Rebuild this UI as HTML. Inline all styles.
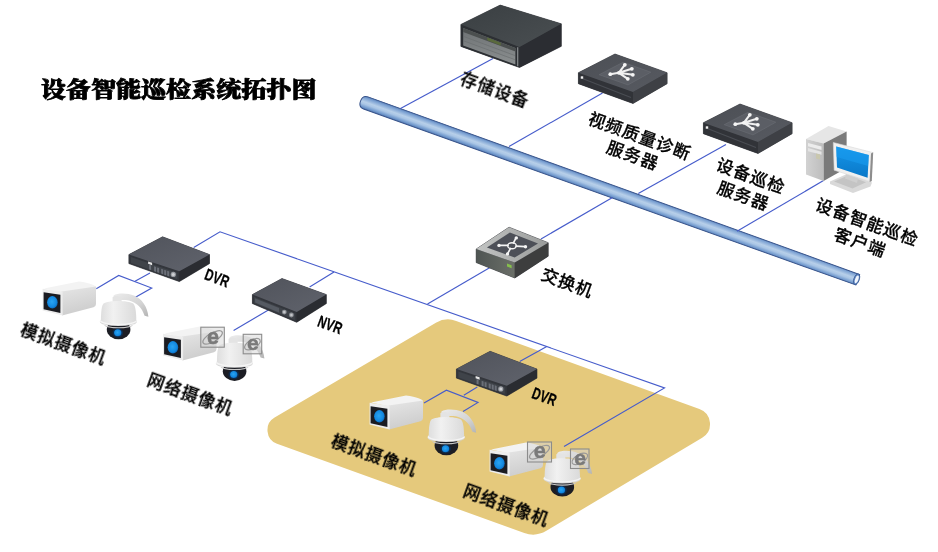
<!DOCTYPE html>
<html lang="zh-CN"><head><meta charset="utf-8"><title>设备智能巡检系统拓扑图</title>
<style>html,body{margin:0;padding:0;background:#fff;}body{width:938px;height:552px;overflow:hidden;}svg{display:block;}.lbl text{font-family:"Liberation Sans","Noto Sans CJK SC",sans-serif;fill:#000;stroke:#000;stroke-width:0.3px;}.lbl,.title,.ie{opacity:0.999;}.title{font-family:"Liberation Serif","Noto Serif CJK SC",serif;font-weight:900;fill:#000;}.wires{stroke:#465ccb;stroke-width:1.15;fill:none;}</style></head><body>
<svg width="938" height="552" viewBox="0 0 938 552">
<defs>
<filter id="soft" x="-5%" y="-5%" width="110%" height="110%" color-interpolation-filters="sRGB"><feGaussianBlur stdDeviation="0.55"/></filter>
<linearGradient id="gPipe" gradientUnits="userSpaceOnUse" x1="0" y1="-6.6" x2="0" y2="6.6">
<stop offset="0" stop-color="#557ab0"/><stop offset="0.15" stop-color="#7aa0d2"/><stop offset="0.45" stop-color="#b7cfe9"/><stop offset="0.62" stop-color="#a9c5e5"/><stop offset="0.85" stop-color="#7199cd"/><stop offset="1" stop-color="#5075ac"/>
</linearGradient>
<linearGradient id="gDvrTop" x1="0" y1="0" x2="1" y2="1"><stop offset="0" stop-color="#50535b"/><stop offset="1" stop-color="#60636c"/></linearGradient>
<linearGradient id="gSrvTop" x1="0" y1="0" x2="1" y2="1"><stop offset="0" stop-color="#4c4f55"/><stop offset="1" stop-color="#575a61"/></linearGradient>
<linearGradient id="gStoTop" x1="0" y1="0" x2="1" y2="1"><stop offset="0" stop-color="#3a3f42"/><stop offset="1" stop-color="#4a4f52"/></linearGradient>
<linearGradient id="gStoFront" x1="0" y1="0" x2="0" y2="1"><stop offset="0" stop-color="#6d7173"/><stop offset="1" stop-color="#8b8f90"/></linearGradient>
<linearGradient id="gSwTop" x1="0" y1="0.5" x2="1" y2="0.5"><stop offset="0" stop-color="#c2c4c3"/><stop offset="1" stop-color="#9a9c9b"/></linearGradient>
<linearGradient id="gSwFront" x1="0" y1="0" x2="1" y2="0"><stop offset="0" stop-color="#4f5553"/><stop offset="1" stop-color="#6b6f68"/></linearGradient>
<linearGradient id="gPcFront" x1="0" y1="0" x2="1" y2="0"><stop offset="0" stop-color="#d2d2d2"/><stop offset="1" stop-color="#bdbdbd"/></linearGradient>
<linearGradient id="gScreen" x1="0" y1="0" x2="0" y2="1"><stop offset="0" stop-color="#1596ea"/><stop offset="1" stop-color="#0a78c8"/></linearGradient>
<linearGradient id="gCamSide" x1="0" y1="0" x2="0.3" y2="1"><stop offset="0" stop-color="#e6e6e6"/><stop offset="1" stop-color="#cdcdcd"/></linearGradient>
<radialGradient id="gLens" cx="0.45" cy="0.45" r="0.6"><stop offset="0" stop-color="#2aa4f2"/><stop offset="0.7" stop-color="#1288e0"/><stop offset="1" stop-color="#0b5fae"/></radialGradient>
<linearGradient id="gDome" x1="0" y1="0" x2="1" y2="0"><stop offset="0" stop-color="#dedede"/><stop offset="0.35" stop-color="#f1f1f1"/><stop offset="1" stop-color="#dadada"/></linearGradient>
<linearGradient id="gArm" x1="0" y1="0" x2="1" y2="1"><stop offset="0" stop-color="#ececec"/><stop offset="0.6" stop-color="#d4d4d4"/><stop offset="1" stop-color="#b4b4b4"/></linearGradient>
</defs>
<rect width="938" height="552" fill="#ffffff"/>
<g id="gfx" filter="url(#soft)">
<path d="M277.0 443.7 A14.5 14.5 0 0 1 274.6 417.6 L435.9 322.8 A24.0 24.0 0 0 1 456.2 320.9 L699.4 409.0 A16.0 16.0 0 0 1 702.2 437.8 L546.4 530.8 A26.0 26.0 0 0 1 524.3 533.0 Z" fill="#e5c97c"/>
<g transform="translate(362 101.6) rotate(19.765)">
<path d="M4 -6.5 L526.8 -5.6 L526.8 5.6 L4 6.5 C0.5 6.5 -1.6 4 -1.6 0 C-1.6 -4 0.5 -6.5 4 -6.5 Z" fill="url(#gPipe)" stroke="#36528a" stroke-width="0.95"/>
<ellipse cx="525.5" cy="0" rx="2.7" ry="5.6" fill="#5f86c2" stroke="#3a5a94" stroke-width="0.8"/>
<ellipse cx="525.7" cy="0" rx="1.6" ry="4.0" fill="#f2f6fc"/>
</g>
<g class="wires">
<line x1="493.0" y1="58.4" x2="400.5" y2="108.6"/>
<line x1="602.5" y1="93.0" x2="509.0" y2="146.6"/>
<line x1="726.0" y1="144.4" x2="638.3" y2="193.6"/>
<line x1="823.5" y1="180.6" x2="737.0" y2="231.2"/>
<line x1="612.5" y1="197.5" x2="541.0" y2="239.0"/>
<line x1="490.0" y1="267.5" x2="427.5" y2="304.0"/>
<polyline points="193.7,247.5 220.0,231.8 664.5,388.0 564.0,446.5"/>
<line x1="334.0" y1="272.0" x2="309.6" y2="287.0"/>
<line x1="546.8" y1="346.6" x2="519.7" y2="361.5"/>
<line x1="268.4" y1="310.0" x2="233.6" y2="330.4"/>
<line x1="150.0" y1="273.0" x2="135.0" y2="281.3"/>
<polyline points="96.3,288.7 118.7,275.5 151.7,288.0 135.0,297.5"/>
<line x1="477.3" y1="387.0" x2="463.8" y2="395.3"/>
<polyline points="424.0,403.0 446.4,390.2 478.0,402.4 463.0,411.5"/>
</g>
<g><polygon points="460.9,24.4 500.2,5.1 561.3,23.8 561.3,46.3 519.5,67.5 460.9,46.4" fill="#303237" stroke="#303237" stroke-width="0.6" stroke-linejoin="round"/><polygon points="460.9,24.4 519.5,47.0 519.5,67.5 460.9,46.4" fill="#2c2f33" /><polygon points="519.5,47.0 561.3,23.8 561.3,46.3 519.5,67.5" fill="#2b2d32" /><polygon points="460.9,24.4 500.2,5.1 561.3,23.8 519.5,47.0" fill="url(#gStoTop)" /><polygon points="463.2,27.9 515.4,47.9 515.4,64.4 463.2,45.5" fill="url(#gStoFront)" /><polygon points="463.2,27.9 515.4,47.9 515.4,51.6 463.2,31.9" fill="#4b4f4f" /><polygon points="487.3,37.6 500.7,42.7 500.7,45.4 487.3,40.3" fill="#5a6a3c" /><line x1="463.8" y1="36.5" x2="514.8" y2="55.5" stroke="#6a6e70" stroke-width="0.7"/><line x1="463.8" y1="40.9" x2="514.8" y2="59.6" stroke="#6a6e70" stroke-width="0.7"/><line x1="517.7" y1="47.3" x2="517.7" y2="66.3" stroke="#8a8d90" stroke-width="1.2"/></g>
<g><polygon points="578.4,72.7 615.0,54.0 667.1,72.7 667.1,83.7 633.0,103.5 578.4,83.7" fill="#303237" stroke="#303237" stroke-width="0.6" stroke-linejoin="round"/><polygon points="578.4,72.7 633.0,92.0 633.0,103.5 578.4,83.7" fill="#313338" /><polygon points="633.0,92.0 667.1,72.7 667.1,83.7 633.0,103.5" fill="#3e4045" /><polygon points="578.4,72.7 615.0,54.0 667.1,72.7 633.0,92.0" fill="url(#gSrvTop)" /><line x1="580.4" y1="77.7" x2="631.0" y2="97.5" stroke="#4a4d53" stroke-width="1.2"/><polygon points="599.2,74.7 623.0,62.3 650.8,72.2 628.0,84.9" fill="#5b5e65" stroke="#6a6d74" stroke-width="0.6"/><g stroke="#f0f0f0" stroke-width="2.1" stroke-linecap="round" fill="none"><path d="M618.8 72.8 l-8.5 1.5 M618.8 72.8 l6 -8 M618.8 72.8 l13 -4 M618.8 72.8 l14 2 M618.8 72.8 l9 6"/></g><circle cx="610.3" cy="74.2" r="1.9" fill="#f5f5f5"/><circle cx="624.8" cy="64.8" r="1.9" fill="#f5f5f5"/><circle cx="631.8" cy="68.8" r="1.9" fill="#f5f5f5"/><circle cx="632.8" cy="74.8" r="1.9" fill="#f5f5f5"/><circle cx="627.8" cy="78.8" r="1.9" fill="#f5f5f5"/><circle cx="618.8" cy="72.8" r="1.9" fill="#f5f5f5"/><rect x="580.8" y="76.3" width="2.4" height="2.4" fill="#f0f0f0"/></g>
<g><polygon points="703.4,122.7 740.0,104.0 792.1,122.7 792.1,133.7 758.0,153.5 703.4,133.7" fill="#303237" stroke="#303237" stroke-width="0.6" stroke-linejoin="round"/><polygon points="703.4,122.7 758.0,142.0 758.0,153.5 703.4,133.7" fill="#313338" /><polygon points="758.0,142.0 792.1,122.7 792.1,133.7 758.0,153.5" fill="#3e4045" /><polygon points="703.4,122.7 740.0,104.0 792.1,122.7 758.0,142.0" fill="url(#gSrvTop)" /><line x1="705.4" y1="127.7" x2="756.0" y2="147.5" stroke="#4a4d53" stroke-width="1.2"/><polygon points="724.2,124.7 748.0,112.3 775.8,122.2 753.0,134.9" fill="#5b5e65" stroke="#6a6d74" stroke-width="0.6"/><g stroke="#f0f0f0" stroke-width="2.1" stroke-linecap="round" fill="none"><path d="M743.8 122.8 l-8.5 1.5 M743.8 122.8 l6 -8 M743.8 122.8 l13 -4 M743.8 122.8 l14 2 M743.8 122.8 l9 6"/></g><circle cx="735.3" cy="124.2" r="1.9" fill="#f5f5f5"/><circle cx="749.8" cy="114.8" r="1.9" fill="#f5f5f5"/><circle cx="756.8" cy="118.8" r="1.9" fill="#f5f5f5"/><circle cx="757.8" cy="124.8" r="1.9" fill="#f5f5f5"/><circle cx="752.8" cy="128.8" r="1.9" fill="#f5f5f5"/><circle cx="743.8" cy="122.8" r="1.9" fill="#f5f5f5"/><rect x="705.8" y="126.3" width="2.4" height="2.4" fill="#f0f0f0"/></g>
<g><polygon points="806.0,139.0 828.5,126.0 846.6,131.5 823.6,143.5" fill="#e6e6e6" /><polygon points="806.0,139.0 823.6,143.5 823.6,181.0 806.0,174.5" fill="url(#gPcFront)" /><polygon points="823.6,143.5 846.6,131.5 846.6,168.0 823.6,181.0" fill="#7a7a7a" /><polygon points="808.0,143.0 821.5,146.5 821.5,150.0 808.0,146.3" fill="#ececec" /><polygon points="808.0,148.0 821.5,151.7 821.5,154.8 808.0,151.3" fill="#e4e4e4" /><polygon points="816.0,153.5 820.0,154.6 820.0,159.5 816.0,158.4" fill="#c9c7ae" /><polygon points="830.0,181.5 848.0,173.5 872.0,182.5 870.5,186.5 853.0,193.0 830.0,184.0" fill="#d9d9d9" /><polygon points="834.0,181.5 848.0,175.5 866.0,182.3 852.5,188.5" fill="#c4c4c4" /><polygon points="846.0,174.0 858.0,178.5 857.0,183.0 845.0,178.5" fill="#cfcfcf" /><polygon points="833.3,142.5 872.6,152.5 871.0,181.8 834.2,170.2" fill="#f0f0f0" stroke="#d8d8d8" stroke-width="0.6"/><polygon points="871.0,153.5 873.2,152.3 871.8,181.0 869.6,182.0" fill="#8d8d8d" /><polygon points="836.2,146.5 868.8,155.0 867.6,177.8 837.0,167.4" fill="url(#gScreen)" /><polygon points="836.2,146.5 868.8,155.0 868.2,166.0 836.6,157.0" fill="#1a9cf0" opacity="0.55"/></g>
<g><polygon points="476.2,249.1 509.0,227.2 548.2,242.7 548.2,256.2 514.8,278.0 476.2,262.6" fill="#303237" stroke="#303237" stroke-width="0.6" stroke-linejoin="round"/><polygon points="476.2,249.1 514.8,262.6 514.8,278.0 476.2,262.6" fill="url(#gSwFront)" /><polygon points="514.8,262.6 548.2,242.7 548.2,256.2 514.8,278.0" fill="#3d3e3e" /><polygon points="476.2,249.1 509.0,227.2 548.2,242.7 514.8,262.6" fill="url(#gSwTop)" /><polygon points="486.9,247.5 509.9,232.4 538.0,243.4 514.7,257.5" fill="#4d5058" /><g stroke="#f4f4f4" stroke-width="1.7" stroke-linecap="round" fill="none"><path d="M508.0 245.4 l-9 0 M516.0 246.2 l9 0.5 M513.5 242.9 l2.5 -5 M510.5 248.4 l-3 5.5"/><ellipse cx="512.0" cy="245.7" rx="4.3" ry="3" stroke-width="1.4"/></g><circle cx="499.0" cy="245.4" r="1.7" fill="#f5f5f5"/><circle cx="525.5" cy="246.7" r="1.7" fill="#f5f5f5"/><circle cx="516.3" cy="237.9" r="1.7" fill="#f5f5f5"/><circle cx="507.5" cy="253.9" r="1.7" fill="#f5f5f5"/><rect x="507" y="263.6" width="4.6" height="3" fill="#86c04c" transform="skewY(19)" style="transform-origin:507px 263.6px"/></g>
<g><polygon points="128.9,254.6 162.6,236.8 209.5,254.6 209.5,263.6 179.3,281.6 128.9,263.6" fill="#303237" stroke="#303237" stroke-width="0.6" stroke-linejoin="round"/><polygon points="128.9,254.6 179.3,271.3 179.3,281.6 128.9,263.6" fill="#33363c" /><polygon points="179.3,271.3 209.5,254.6 209.5,263.6 179.3,281.6" fill="#2a2c31" /><polygon points="128.9,254.6 162.6,236.8 209.5,254.6 179.3,271.3" fill="url(#gDvrTop)" /><polygon points="130.9,257.1 177.3,272.7 177.3,279.3 130.9,263.0" fill="#3f4349" /><polygon points="148.1,261.4 152.1,262.8 152.1,265.2 148.1,263.8" fill="#e8e8e8" /><polygon points="149.1,264.6 151.1,265.3 151.1,270.1 149.1,269.4" fill="#6b6f78" /><polygon points="154.1,266.3 156.1,267.0 156.1,271.9 154.1,271.2" fill="#6b6f78" /><polygon points="157.1,267.4 159.1,268.0 159.1,272.9 157.1,272.2" fill="#6b6f78" /><polygon points="161.2,268.7 163.2,269.4 163.2,274.4 161.2,273.6" fill="#6b6f78" /><polygon points="164.2,269.8 166.2,270.4 166.2,275.4 164.2,274.7" fill="#6b6f78" /><polygon points="167.2,270.8 169.2,271.5 169.2,276.5 167.2,275.8" fill="#6b6f78" /><circle cx="173.3" cy="274.4" r="2.6" fill="#9a9da3"/><circle cx="173.3" cy="274.4" r="1.5" fill="#cfd1d4"/></g>
<g><polygon points="252.4,294.6 282.0,278.5 326.3,294.6 326.3,303.6 296.7,322.3 252.4,303.6" fill="#303237" stroke="#303237" stroke-width="0.6" stroke-linejoin="round"/><polygon points="252.4,294.6 296.7,312.0 296.7,322.3 252.4,303.6" fill="#33363c" /><polygon points="296.7,312.0 326.3,294.6 326.3,303.6 296.7,322.3" fill="#2a2c31" /><polygon points="252.4,294.6 282.0,278.5 326.3,294.6 296.7,312.0" fill="url(#gDvrTop)" /><polygon points="254.2,297.1 294.9,313.4 294.9,320.0 254.2,303.0" fill="#3f4349" /><polygon points="255.1,298.4 279.0,308.0 279.0,312.4 255.1,302.5" fill="#555a62" /><circle cx="284.3" cy="312.1" r="2.4" fill="#8d9096"/><circle cx="284.3" cy="312.1" r="1.3" fill="#c5c7ca"/><circle cx="291.4" cy="315.0" r="2.4" fill="#8d9096"/><circle cx="291.4" cy="315.0" r="1.3" fill="#c5c7ca"/></g>
<g><polygon points="456.4,369.1 490.1,351.3 537.0,369.1 537.0,378.1 506.8,396.1 456.4,378.1" fill="#303237" stroke="#303237" stroke-width="0.6" stroke-linejoin="round"/><polygon points="456.4,369.1 506.8,385.8 506.8,396.1 456.4,378.1" fill="#33363c" /><polygon points="506.8,385.8 537.0,369.1 537.0,378.1 506.8,396.1" fill="#2a2c31" /><polygon points="456.4,369.1 490.1,351.3 537.0,369.1 506.8,385.8" fill="url(#gDvrTop)" /><polygon points="458.4,371.6 504.8,387.2 504.8,393.8 458.4,377.5" fill="#3f4349" /><polygon points="475.6,375.9 479.6,377.3 479.6,379.7 475.6,378.3" fill="#e8e8e8" /><polygon points="476.6,379.1 478.6,379.8 478.6,384.6 476.6,383.9" fill="#6b6f78" /><polygon points="481.6,380.8 483.6,381.5 483.6,386.4 481.6,385.7" fill="#6b6f78" /><polygon points="484.6,381.9 486.6,382.5 486.6,387.4 484.6,386.7" fill="#6b6f78" /><polygon points="488.7,383.2 490.7,383.9 490.7,388.9 488.7,388.1" fill="#6b6f78" /><polygon points="491.7,384.3 493.7,384.9 493.7,389.9 491.7,389.2" fill="#6b6f78" /><polygon points="494.7,385.3 496.7,386.0 496.7,391.0 494.7,390.3" fill="#6b6f78" /><circle cx="500.8" cy="388.9" r="2.6" fill="#9a9da3"/><circle cx="500.8" cy="388.9" r="1.5" fill="#cfd1d4"/></g>
<g><path d="M44.0 288.6 L79.0 281.6 Q95.5 284.0 96.0 287.5 L96.0 288.0 L62.0 292.5 Z" fill="#f3f3f3"/><path d="M61.5 291.5 L96.0 286.5 L96.0 304.0 Q96.0 306.5 93.5 307.2 L62.0 315.5 Z" fill="url(#gCamSide)"/><path d="M42.6 288.8 L62.6 291.8 L62.6 315.6 L42.6 310.6 Z" fill="#ededed"/><path d="M43.6 292.2 L60.4 294.8 L60.4 313.0 L43.6 309.2 Z" fill="#1b1c22"/><ellipse cx="52.4" cy="302.3" rx="5.3" ry="6.2" fill="url(#gLens)"/></g>
<g><path d="M113.6 295.6 C118.0 292.6 128.0 293.2 134.0 295.6 C142.0 299.0 147.5 307.0 148.4 316.8 L144.6 315.8 C142.0 308.0 137.0 303.0 129.0 300.6 C124.0 299.8 118.0 300.0 114.0 301.0 Z" fill="url(#gArm)" /><path d="M112.6 305.0 L112.6 297.0 Q117.0 294.6 121.6 297.4 L121.6 305.0 Z" fill="#e4e4e4" /><ellipse cx="118.6" cy="329.6" rx="11.8" ry="9.6" fill="#1c1d24"/><ellipse cx="117.8" cy="332.8" rx="5.4" ry="4.8" fill="#0f2a4a"/><ellipse cx="117.8" cy="332.8" rx="3.7" ry="3.5" fill="url(#gLens)"/><path d="M101.4 322.8 A17.4 5.2 0 0 0 135.8 322.8 L132.5 325.4 A14 3.2 0 0 1 104.6 325.4 Z" fill="#c9c9c9"/><ellipse cx="118.4" cy="321.8" rx="18.6" ry="4.3" fill="#d9d9d9"/><ellipse cx="118.4" cy="321.0" rx="18.6" ry="4.2" fill="#f4f4f4"/><path d="M100.9 320.4 C101.0 312.0 101.6 305.6 103.6 303.6 C108.0 300.2 128.0 300.2 133.2 303.6 C135.4 305.6 136.2 312.0 136.3 320.4 C131.0 325.0 106.0 325.0 100.9 320.4 Z" fill="url(#gDome)" /></g>
<g><path d="M164.5 333.6 L199.5 326.6 Q216.0 329.0 216.5 332.5 L216.5 333.0 L182.5 337.5 Z" fill="#f3f3f3"/><path d="M182.0 336.5 L216.5 331.5 L216.5 349.0 Q216.5 351.5 214.0 352.2 L182.5 360.5 Z" fill="url(#gCamSide)"/><path d="M163.1 333.8 L183.1 336.8 L183.1 360.6 L163.1 355.6 Z" fill="#ededed"/><path d="M164.1 337.2 L180.9 339.8 L180.9 358.0 L164.1 354.2 Z" fill="#1b1c22"/><ellipse cx="172.9" cy="347.3" rx="5.3" ry="6.2" fill="url(#gLens)"/></g>
<g><path d="M229.6 337.3 C234.0 334.3 244.0 334.9 250.0 337.3 C258.0 340.7 263.5 348.7 264.4 358.5 L260.6 357.5 C258.0 349.7 253.0 344.7 245.0 342.3 C240.0 341.5 234.0 341.7 230.0 342.7 Z" fill="url(#gArm)" /><path d="M228.6 346.7 L228.6 338.7 Q233.0 336.3 237.6 339.1 L237.6 346.7 Z" fill="#e4e4e4" /><ellipse cx="234.6" cy="371.3" rx="11.8" ry="9.6" fill="#1c1d24"/><ellipse cx="233.8" cy="374.5" rx="5.4" ry="4.8" fill="#0f2a4a"/><ellipse cx="233.8" cy="374.5" rx="3.7" ry="3.5" fill="url(#gLens)"/><path d="M217.4 364.5 A17.4 5.2 0 0 0 251.8 364.5 L248.5 367.1 A14 3.2 0 0 1 220.6 367.1 Z" fill="#c9c9c9"/><ellipse cx="234.4" cy="363.5" rx="18.6" ry="4.3" fill="#d9d9d9"/><ellipse cx="234.4" cy="362.7" rx="18.6" ry="4.2" fill="#f4f4f4"/><path d="M216.9 362.1 C217.0 353.7 217.6 347.3 219.6 345.3 C224.0 341.9 244.0 341.9 249.2 345.3 C251.4 347.3 252.2 353.7 252.3 362.1 C247.0 366.7 222.0 366.7 216.9 362.1 Z" fill="url(#gDome)" /></g>
<g class="ie"><rect x="200.8" y="327.2" width="23.5" height="20.0" fill="#d6d6d6" fill-opacity="0.5" stroke="#8c8c8c" stroke-width="1.1"/><ellipse cx="212.6" cy="337.4" rx="11.0" ry="4.4" fill="none" stroke="#999999" stroke-width="1.2" transform="rotate(-30 212.6 337.4)"/><text x="212.9" y="343.6" font-family="'Liberation Sans',sans-serif" font-weight="bold" font-size="21.6px" fill="#7a7a7a" stroke="#7a7a7a" stroke-width="0.5" text-anchor="middle">e</text></g>
<g class="ie"><rect x="243.2" y="334.3" width="18.5" height="19.5" fill="#d6d6d6" fill-opacity="0.5" stroke="#8c8c8c" stroke-width="1.1"/><ellipse cx="252.4" cy="344.2" rx="8.7" ry="4.3" fill="none" stroke="#999999" stroke-width="1.2" transform="rotate(-30 252.4 344.2)"/><text x="252.8" y="350.3" font-family="'Liberation Sans',sans-serif" font-weight="bold" font-size="21.1px" fill="#7a7a7a" stroke="#7a7a7a" stroke-width="0.5" text-anchor="middle">e</text></g>
<g><path d="M371.0 402.6 L406.0 395.6 Q422.5 398.0 423.0 401.5 L423.0 402.0 L389.0 406.5 Z" fill="#f3f3f3"/><path d="M388.5 405.5 L423.0 400.5 L423.0 418.0 Q423.0 420.5 420.5 421.2 L389.0 429.5 Z" fill="url(#gCamSide)"/><path d="M369.6 402.8 L389.6 405.8 L389.6 429.6 L369.6 424.6 Z" fill="#ededed"/><path d="M370.6 406.2 L387.4 408.8 L387.4 427.0 L370.6 423.2 Z" fill="#1b1c22"/><ellipse cx="379.4" cy="416.3" rx="5.3" ry="6.2" fill="url(#gLens)"/></g>
<g><path d="M441.4 411.6 C445.8 408.6 455.8 409.2 461.8 411.6 C469.8 415.0 475.3 423.0 476.2 432.8 L472.4 431.8 C469.8 424.0 464.8 419.0 456.8 416.6 C451.8 415.8 445.8 416.0 441.8 417.0 Z" fill="url(#gArm)" /><path d="M440.4 421.0 L440.4 413.0 Q444.8 410.6 449.4 413.4 L449.4 421.0 Z" fill="#e4e4e4" /><ellipse cx="446.4" cy="445.6" rx="11.8" ry="9.6" fill="#1c1d24"/><ellipse cx="445.6" cy="448.8" rx="5.4" ry="4.8" fill="#0f2a4a"/><ellipse cx="445.6" cy="448.8" rx="3.7" ry="3.5" fill="url(#gLens)"/><path d="M429.2 438.8 A17.4 5.2 0 0 0 463.6 438.8 L460.3 441.4 A14 3.2 0 0 1 432.4 441.4 Z" fill="#c9c9c9"/><ellipse cx="446.2" cy="437.8" rx="18.6" ry="4.3" fill="#d9d9d9"/><ellipse cx="446.2" cy="437.0" rx="18.6" ry="4.2" fill="#f4f4f4"/><path d="M428.7 436.4 C428.8 428.0 429.4 421.6 431.4 419.6 C435.8 416.2 455.8 416.2 461.0 419.6 C463.2 421.6 464.0 428.0 464.1 436.4 C458.8 441.0 433.8 441.0 428.7 436.4 Z" fill="url(#gDome)" /></g>
<g><path d="M491.0 449.6 L526.0 442.6 Q542.5 445.0 543.0 448.5 L543.0 449.0 L509.0 453.5 Z" fill="#f3f3f3"/><path d="M508.5 452.5 L543.0 447.5 L543.0 465.0 Q543.0 467.5 540.5 468.2 L509.0 476.5 Z" fill="url(#gCamSide)"/><path d="M489.6 449.8 L509.6 452.8 L509.6 476.6 L489.6 471.6 Z" fill="#ededed"/><path d="M490.6 453.2 L507.4 455.8 L507.4 474.0 L490.6 470.2 Z" fill="#1b1c22"/><ellipse cx="499.4" cy="463.3" rx="5.3" ry="6.2" fill="url(#gLens)"/></g>
<g><path d="M557.3 452.9 C561.7 449.9 571.7 450.5 577.7 452.9 C585.7 456.3 591.2 464.3 592.1 474.1 L588.3 473.1 C585.7 465.3 580.7 460.3 572.7 457.9 C567.7 457.1 561.7 457.3 557.7 458.3 Z" fill="url(#gArm)" /><path d="M556.3 462.3 L556.3 454.3 Q560.7 451.9 565.3 454.7 L565.3 462.3 Z" fill="#e4e4e4" /><ellipse cx="562.3" cy="486.9" rx="11.8" ry="9.6" fill="#1c1d24"/><ellipse cx="561.5" cy="490.1" rx="5.4" ry="4.8" fill="#0f2a4a"/><ellipse cx="561.5" cy="490.1" rx="3.7" ry="3.5" fill="url(#gLens)"/><path d="M545.1 480.1 A17.4 5.2 0 0 0 579.5 480.1 L576.2 482.7 A14 3.2 0 0 1 548.3 482.7 Z" fill="#c9c9c9"/><ellipse cx="562.1" cy="479.1" rx="18.6" ry="4.3" fill="#d9d9d9"/><ellipse cx="562.1" cy="478.3" rx="18.6" ry="4.2" fill="#f4f4f4"/><path d="M544.6 477.7 C544.7 469.3 545.3 462.9 547.3 460.9 C551.7 457.5 571.7 457.5 576.9 460.9 C579.1 462.9 579.9 469.3 580.0 477.7 C574.7 482.3 549.7 482.3 544.6 477.7 Z" fill="url(#gDome)" /></g>
<g class="ie"><rect x="527.5" y="442.0" width="24.0" height="20.0" fill="#d6d6d6" fill-opacity="0.5" stroke="#8c8c8c" stroke-width="1.1"/><ellipse cx="539.5" cy="452.2" rx="11.3" ry="4.4" fill="none" stroke="#999999" stroke-width="1.2" transform="rotate(-30 539.5 452.2)"/><text x="539.8" y="458.4" font-family="'Liberation Sans',sans-serif" font-weight="bold" font-size="21.6px" fill="#7a7a7a" stroke="#7a7a7a" stroke-width="0.5" text-anchor="middle">e</text></g>
<g class="ie"><rect x="570.5" y="449.0" width="18.5" height="19.5" fill="#d6d6d6" fill-opacity="0.5" stroke="#8c8c8c" stroke-width="1.1"/><ellipse cx="579.8" cy="458.9" rx="8.7" ry="4.3" fill="none" stroke="#999999" stroke-width="1.2" transform="rotate(-30 579.8 458.9)"/><text x="580.0" y="465.0" font-family="'Liberation Sans',sans-serif" font-weight="bold" font-size="21.1px" fill="#7a7a7a" stroke="#7a7a7a" stroke-width="0.5" text-anchor="middle">e</text></g>
</g>
<g class="lbl">
<text transform="translate(493.0 95.5) rotate(20) scale(1.000 1)" text-anchor="middle" font-size="17.0px" letter-spacing="1.00px" font-weight="500">存储设备</text>
<text transform="translate(637.7 141.9) rotate(20) scale(1.000 1)" text-anchor="middle" font-size="17.0px" letter-spacing="1.00px" font-weight="500">视频质量诊断</text>
<text transform="translate(630.7 161.2) rotate(20) scale(1.000 1)" text-anchor="middle" font-size="17.0px" letter-spacing="1.00px" font-weight="500">服务器</text>
<text transform="translate(748.8 181.9) rotate(20) scale(1.000 1)" text-anchor="middle" font-size="17.0px" letter-spacing="1.00px" font-weight="500">设备巡检</text>
<text transform="translate(741.3 201.7) rotate(20) scale(1.000 1)" text-anchor="middle" font-size="17.0px" letter-spacing="1.00px" font-weight="500">服务器</text>
<text transform="translate(865.1 227.9) rotate(20) scale(1.000 1)" text-anchor="middle" font-size="17.0px" letter-spacing="1.00px" font-weight="500">设备智能巡检</text>
<text transform="translate(858.1 248.2) rotate(20) scale(1.000 1)" text-anchor="middle" font-size="17.0px" letter-spacing="1.00px" font-weight="500">客户端</text>
<text transform="translate(565.3 288.6) rotate(20) scale(1.000 1)" text-anchor="middle" font-size="17.0px" letter-spacing="1.00px" font-weight="500">交换机</text>
<text transform="translate(215.3 283.4) rotate(20) scale(0.700 1)" text-anchor="middle" font-size="16.5px" letter-spacing="0.30px" font-weight="700">DVR</text>
<text transform="translate(328.2 330.2) rotate(20) scale(0.700 1)" text-anchor="middle" font-size="16.5px" letter-spacing="0.30px" font-weight="700">NVR</text>
<text transform="translate(542.5 402.0) rotate(20) scale(0.700 1)" text-anchor="middle" font-size="16.5px" letter-spacing="0.30px" font-weight="700">DVR</text>
<text transform="translate(61.6 349.6) rotate(20) scale(1.000 1)" text-anchor="middle" font-size="17.0px" letter-spacing="1.00px" font-weight="500">模拟摄像机</text>
<text transform="translate(188.3 400.1) rotate(20) scale(1.000 1)" text-anchor="middle" font-size="17.0px" letter-spacing="1.00px" font-weight="500">网络摄像机</text>
<text transform="translate(372.3 461.0) rotate(20) scale(1.000 1)" text-anchor="middle" font-size="17.0px" letter-spacing="1.00px" font-weight="500">模拟摄像机</text>
<text transform="translate(504.3 511.1) rotate(20) scale(1.000 1)" text-anchor="middle" font-size="17.0px" letter-spacing="1.00px" font-weight="500">网络摄像机</text>
</g>
<text class="title" transform="translate(40.8 96.9) scale(1.166 1)" font-size="21.5px" stroke="#000" stroke-width="0.8" stroke-linejoin="round">设备智能巡检系统拓扑图</text>
</svg></body></html>
